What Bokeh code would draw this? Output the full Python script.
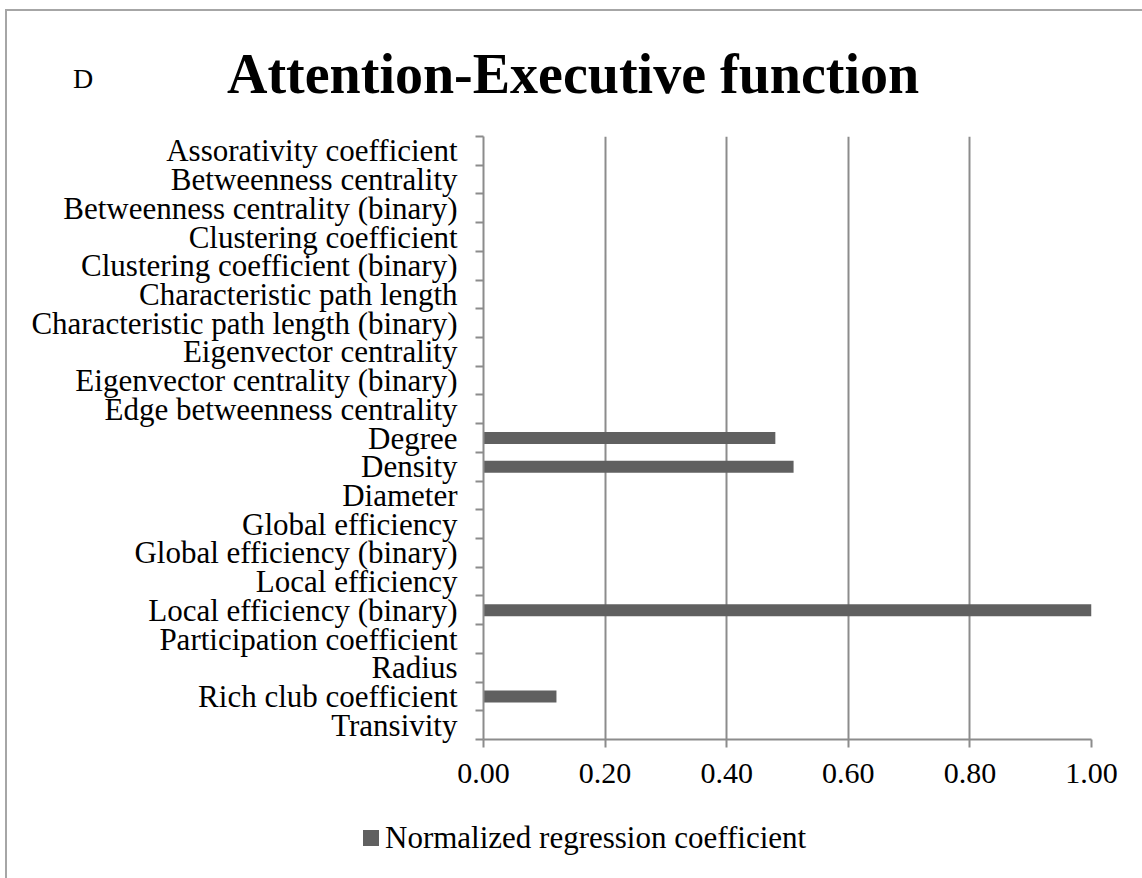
from bokeh.plotting import figure
from bokeh.layouts import column
from bokeh.models import FixedTicker, ColumnDataSource, Range1d, Div
from bokeh.embed import file_html
from bokeh.resources import INLINE

categories = [
    "Assorativity coefficient",
    "Betweenness centrality",
    "Betweenness centrality (binary)",
    "Clustering coefficient",
    "Clustering coefficient (binary)",
    "Characteristic path length",
    "Characteristic path length (binary)",
    "Eigenvector centrality",
    "Eigenvector centrality (binary)",
    "Edge betweenness centrality",
    "Degree",
    "Density",
    "Diameter",
    "Global efficiency",
    "Global efficiency (binary)",
    "Local efficiency",
    "Local efficiency (binary)",
    "Participation coefficient",
    "Radius",
    "Rich club coefficient",
    "Transivity",
]
values = [0, 0, 0, 0, 0, 0, 0, 0, 0, 0, 0.48, 0.51, 0, 0, 0, 0, 1.00, 0, 0, 0.12, 0]
x_ticks = [0.0, 0.2, 0.4, 0.6, 0.8, 1.0]
series_name = "Normalized regression coefficient"
title_text = "Attention-Executive function"
panel_letter = "D"

n = len(categories)
ypos = [n - i - 0.5 for i in range(n)]
bounds = list(range(n + 1))

serif = "Liberation Serif"
grid_col = "#8c8c8c"
bar_col = "#606060"
border_col = "#a6a6a6"

# page layout (pixels)
OX, OY = 7, 11            # content origin inside the outer border
W = 1142 - OX
HEAD_B, MAIN_B, PAGE_B = 126, 800, 878
FL, FR, FT, FB = 483, 1091, 136, 739
BASE = 0.8375             # baseline position within a line-height:1 box (em)

# ---------- header: panel letter and title ----------
hh = HEAD_B - OY
def span(text, left, baseline, size, bold=False):
    top = baseline - BASE * size
    weight = "bold" if bold else "normal"
    return (f'<div style="position:absolute;left:{left}px;top:{top:.1f}px;'
            f"font-family:'{serif}';font-size:{size}px;font-weight:{weight};"
            f'line-height:1;color:black;white-space:nowrap;">{text}</div>')

head = Div(width=W, height=hh, margin=0,
           styles={"position": "relative", "overflow": "visible"},
           text=span(panel_letter, 73 - OX, 88 - OY, 28)
           + span(title_text, 227 - OX, 93 - OY, 56, bold=True))

# ---------- main chart ----------
mh = MAIN_B - HEAD_B
p = figure(width=W, height=mh, output_backend="svg", toolbar_location=None,
           x_range=Range1d(0, 1.0), y_range=Range1d(0, n),
           min_border_left=FL - OX, min_border_right=1142 - FR,
           min_border_top=FT - HEAD_B, min_border_bottom=MAIN_B - FB,
           margin=0)
p.outline_line_color = None

src = ColumnDataSource(dict(y=ypos, v=values, name=categories))
p.hbar(y="y", right="v", left=0, height=0.42, source=src,
       fill_color=bar_col, line_color=None)

xa = p.xaxis[0]
xa.ticker = FixedTicker(ticks=x_ticks, minor_ticks=[])
xa.major_label_overrides = {t: f"{t:.2f}" for t in x_ticks}
xa.axis_line_color = grid_col
xa.axis_line_width = 2
xa.major_tick_line_color = grid_col
xa.major_tick_line_width = 2
xa.major_tick_out = 8
xa.major_tick_in = 0
xa.minor_tick_line_color = None
xa.major_label_text_font = serif
xa.major_label_text_font_size = "30px"
xa.major_label_text_color = "black"
xa.major_label_standoff = 16

ya = p.yaxis[0]
ya.ticker = FixedTicker(ticks=ypos, minor_ticks=bounds)
ya.major_label_overrides = {y: c for y, c in zip(ypos, categories)}
ya.axis_line_color = grid_col
ya.axis_line_width = 2
ya.major_tick_line_color = None
ya.minor_tick_line_color = grid_col
ya.minor_tick_line_width = 2
ya.minor_tick_out = 8
ya.minor_tick_in = 0
ya.major_label_text_font = serif
ya.major_label_text_font_size = "31px"
ya.major_label_text_color = "black"
ya.major_label_standoff = 18

p.xgrid.ticker = FixedTicker(ticks=x_ticks)
p.xgrid.grid_line_color = grid_col
p.xgrid.grid_line_width = 2
p.ygrid.grid_line_color = None

# ---------- footer: legend ----------
fh = PAGE_B - MAIN_B
key = (f'<div style="position:absolute;left:{363 - OX}px;top:{830 - MAIN_B}px;'
       f'width:16px;height:16px;background:{bar_col};"></div>')
foot = Div(width=W, height=fh, margin=0,
           styles={"position": "relative", "overflow": "visible"},
           text=key + span(series_name, 385 - OX, 848 - MAIN_B, 31))

layout = column(head, p, foot, spacing=0,
                margin=(OY - 2, 0, 0, OX - 2),
                styles={"border-top": f"2px solid {border_col}",
                        "border-left": f"2px solid {border_col}"})

open("out.html", "w").write(file_html(layout, INLINE))
